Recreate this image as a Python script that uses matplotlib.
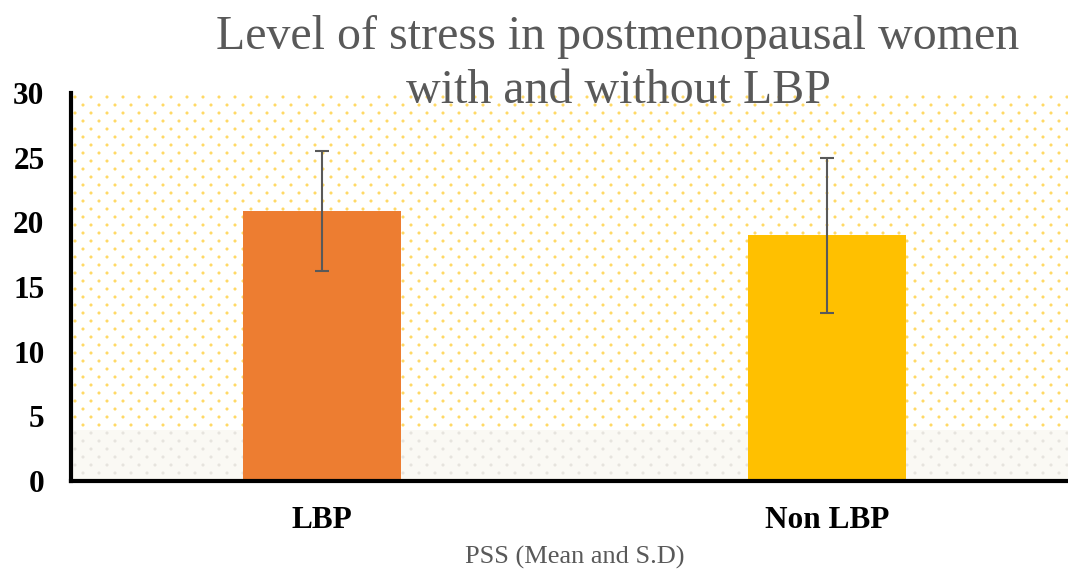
import numpy as np
import matplotlib
matplotlib.use("Agg")
import matplotlib.pyplot as plt
from matplotlib.patches import Rectangle

# dane
groups = ["LBP", "Non LBP"]
means = [20.9, 19.0]
sds = [4.65, 6.0]
bar_colors = ["#ED7D31", "#FFC000"]
yticks = [0, 5, 10, 15, 20, 25, 30]

W, H = 1068, 571
fig = plt.figure(figsize=(W / 100, H / 100), dpi=100)
ax = fig.add_axes([71 / W, 1 - 481 / H, 1 - 71 / W, (481 - 93) / H])

# tlo w kropki (zolte u gory, szare na dole)
aw, ah = 997, 388
band = 51  # wysokosc szarego pasa w px
ax.add_patch(Rectangle((0, 0), 1, band / ah, transform=ax.transAxes,
                       facecolor="#FAF9F4", edgecolor="none", zorder=0))
xs, ys, cs = [], [], []
for j, py in enumerate(np.arange(4, ah, 8)):
    off = 0 if j % 2 == 0 else 8
    for px in np.arange(4 + off, aw, 16):
        xs.append(px / aw)
        ys.append(1 - py / ah)
        cs.append("#FFD966" if py < ah - band else "#E6E4DE")
ax.scatter(xs, ys, s=5, c=cs, marker="o", linewidths=0,
           transform=ax.transAxes, zorder=0.5, clip_on=True)

x = np.arange(len(groups))
ax.bar(x, means, width=0.313, color=bar_colors, zorder=2)
ax.errorbar(x, means, yerr=sds, fmt="none", ecolor="#595959",
            elinewidth=1.5, capsize=5, capthick=1.5, zorder=3)

ax.set_xlim(-0.497, 1.477)
ax.set_ylim(0, 30)
ax.set_yticks(yticks)
ax.set_xticks(x)
ax.set_xticklabels(groups)

for s in ["top", "right"]:
    ax.spines[s].set_visible(False)
for s in ["left", "bottom"]:
    ax.spines[s].set_linewidth(3)
    ax.spines[s].set_color("black")

ax.tick_params(axis="y", length=0, pad=19)
ax.tick_params(axis="x", length=0, pad=18)
for lab in ax.get_yticklabels():
    lab.set_fontfamily("Liberation Serif")
    lab.set_fontweight("bold")
    lab.set_fontsize(22.5)
for lab in ax.get_xticklabels():
    lab.set_fontfamily("Liberation Serif")
    lab.set_fontweight("bold")
    lab.set_fontsize(22.5)

fig.text(618 / W, 1 - 49 / H, "Level of stress in postmenopausal women",
         ha="center", va="baseline", fontsize=34.5, color="#595959",
         family="Liberation Serif")
fig.text(618 / W, 1 - 103 / H, "with and without LBP",
         ha="center", va="baseline", fontsize=34.5, color="#595959",
         family="Liberation Serif")
fig.text(575 / W, 1 - 557 / H, "PSS (Mean and S.D)", ha="center", va="center",
         fontsize=19, color="#595959", family="Liberation Serif")

fig.savefig("out.png", dpi=100)
